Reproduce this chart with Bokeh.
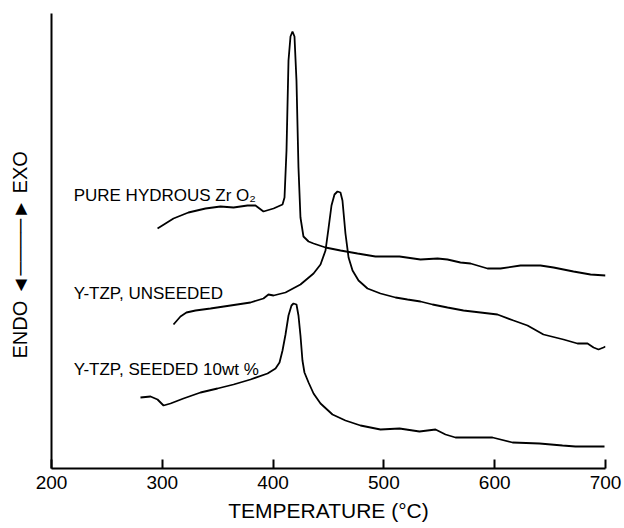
from bokeh.plotting import figure
from bokeh.models import Range1d, FixedTicker, Label
from bokeh.embed import file_html
from bokeh.resources import INLINE

# Temperature (°C) and DTA signal (arbitrary units, exo up)
pure_t = [295.7, 310.1, 323.6, 339.0, 352.5, 364.3, 376.9, 384.1, 391.3, 400.4, 408.5, 410.3,
          412.1, 413.9, 415.7, 417.5, 419.3, 421.1, 422.9, 424.7, 427.4, 432.0, 436.5, 447.3,
          460.8, 476.2, 492.4, 514.1, 533.0, 548.4, 557.4, 569.1, 578.2, 593.5, 605.2, 623.3,
          641.3, 653.1, 671.1, 686.5, 700.0]
pure_s = [240, 250, 256, 260, 262, 261, 263, 263, 257, 260, 264, 271,
          318, 408, 432, 437, 432, 388, 301, 251, 232, 227, 225, 221,
          218, 215, 212, 212, 209, 210, 209, 206, 205, 200, 200, 203,
          203, 201, 197, 194, 193]

unseeded_t = [310.1, 316.4, 321.8, 330.0, 343.5, 361.6, 379.6, 391.3, 395.8, 400.4, 411.2,
              424.7, 436.5, 442.8, 447.3, 450.0, 452.7, 455.4, 458.1, 460.8, 462.6, 465.3,
              468.1, 471.7, 477.1, 485.2, 496.9, 510.5, 521.3, 533.0, 543.9, 557.4, 571.8,
              587.2, 602.5, 617.0, 629.6, 644.0, 662.1, 674.7, 683.8, 689.2, 693.7, 698.2, 700.0]
unseeded_s = [144, 152, 156, 158, 160, 163, 166, 170, 174, 173, 176,
              184, 195, 204, 218, 240, 263, 274, 277, 276, 268, 235,
              211, 198, 188, 180, 175, 171, 169, 167, 164, 161, 158,
              156, 154, 148, 143, 134, 129, 125, 125, 121, 119, 121, 122]

seeded_t = [280.3, 289.4, 295.7, 301.1, 307.4, 319.1, 334.5, 349.8, 364.3, 379.6, 395.0,
            402.2, 405.8, 408.5, 411.2, 413.9, 416.6, 418.4, 421.1, 422.9, 424.7, 426.5,
            428.3, 432.0, 436.5, 442.8, 453.6, 465.3, 478.9, 496.9, 514.1, 532.1, 546.6,
            555.6, 564.6, 586.3, 598.0, 616.1, 640.4, 661.2, 672.9, 699.1]
seeded_s = [71, 72, 69, 63, 65, 70, 76, 80, 84, 89, 95,
            100, 106, 118, 134, 153, 163, 165, 164, 153, 133, 108,
            96, 86, 75, 65, 54, 48, 43, 39, 40, 37, 39,
            34, 31, 31, 31, 26, 25, 23, 22, 22]

x_ticks = [200, 300, 400, 500, 600, 700]

series_labels = ["PURE HYDROUS Zr O\u2082", "Y-TZP, UNSEEDED", "Y-TZP, SEEDED 10wt %"]
label_x = [220, 220, 220]
label_y = [273, 175, 99]

y_title = "ENDO \u25c4\u2500\u2500\u2500\u2500\u25ba EXO\u00a0\u00a0\u00a0\u00a0\u00a0"
x_title = "TEMPERATURE (\u00b0C)"

FONT = "Liberation Sans"

p = figure(width=624, height=528, output_backend="svg", toolbar_location=None,
           x_range=Range1d(200, 700), y_range=Range1d(0, 455),
           min_border_left=51, min_border_right=19, min_border_top=13, min_border_bottom=60)
p.outline_line_color = None
p.xgrid.visible = False
p.ygrid.visible = False
p.background_fill_color = "white"
p.border_fill_color = "white"

for t, s in [(pure_t, pure_s), (unseeded_t, unseeded_s), (seeded_t, seeded_s)]:
    p.line(t, s, line_color="black", line_width=1.8)

for txt, lx, ly in zip(series_labels, label_x, label_y):
    p.add_layout(Label(x=lx, y=ly, text=txt, text_font=FONT, text_font_size="17px",
                       text_color="black", text_baseline="alphabetic", text_align="left"))

xa = p.xaxis[0]
xa.ticker = FixedTicker(ticks=x_ticks)
xa.axis_line_width = 2
xa.axis_line_color = "black"
xa.major_tick_in = 9
xa.major_tick_out = 0
xa.major_tick_line_width = 2
xa.minor_tick_line_color = None
xa.major_label_text_font = FONT
xa.major_label_text_font_size = "19px"
xa.major_label_text_color = "black"
xa.major_label_standoff = 7
xa.axis_label = x_title
xa.axis_label_text_font = FONT
xa.axis_label_text_font_size = "21px"
xa.axis_label_text_font_style = "normal"
xa.axis_label_text_color = "black"
xa.axis_label_standoff = 7

ya = p.yaxis[0]
ya.ticker = FixedTicker(ticks=[])
ya.axis_line_width = 2
ya.axis_line_color = "black"
ya.major_tick_line_color = None
ya.minor_tick_line_color = None
ya.axis_label = y_title
ya.axis_label_text_font = FONT
ya.axis_label_text_font_size = "20px"
ya.axis_label_text_font_style = "normal"
ya.axis_label_text_color = "black"
ya.axis_label_standoff = 21

open("out.html", "w").write(file_html(p, INLINE))
